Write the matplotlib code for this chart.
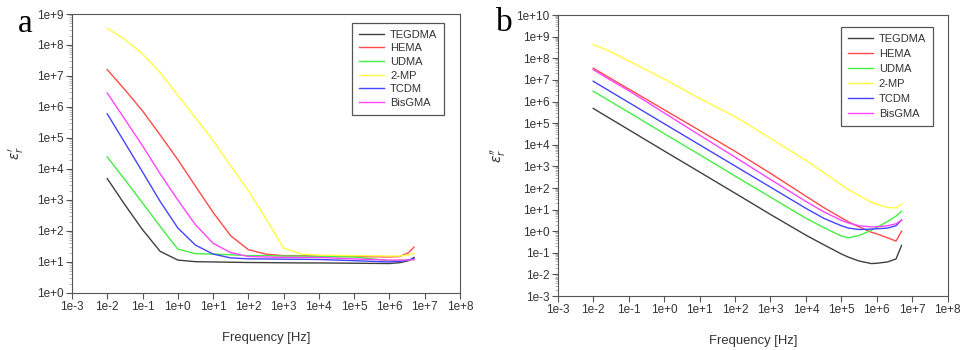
import matplotlib
matplotlib.use("Agg")
import matplotlib.pyplot as plt
from matplotlib.ticker import LogLocator, NullFormatter, FixedLocator

plt.rcParams['font.family'] = ['Liberation Sans', 'DejaVu Sans']

series = ["TEGDMA", "HEMA", "UDMA", "2-MP", "TCDM", "BisGMA"]
colors = ["#404040", "#ff4a4a", "#44ee44", "#ffff44", "#4444ff", "#ff44ff"]

# panel a: real permittivity
freq_a = [0.01, 0.0316, 0.1, 0.316, 1, 3.16, 10, 31.6, 100, 316, 1e3, 3.16e3,
          1e4, 1e5, 1e6, 2e6, 3.5e6, 5e6]
tegdma_a = [4900, 700, 110, 22, 11.5, 10.2, 10, 9.8, 9.6, 9.5, 9.4, 9.3, 9.3, 9.1, 8.9, 9.5, 11, 14]
hema_a = [1.6e7, 3.6e6, 7.5e5, 1.25e5, 2e4, 2800, 400, 70, 25, 17.8, 16, 16, 15.5, 15, 14.5, 15, 20, 30]
udma_a = [24500, 4500, 800, 140, 26, 18.5, 18, 17, 16, 16, 15.5, 15.5, 15, 14.5, 11, 11, 11.5, 12]
mp2_a = [3.5e8, 1.5e8, 5.2e7, 1.3e7, 2.4e6, 4.5e5, 8.3e4, 1.26e4, 2000, 250, 28, 18, 16.6, 16, 15.5, 15.5, 17, 19]
tcdm_a = [6e5, 7e4, 8e3, 900, 125, 35, 18, 13.5, 12.6, 12.5, 12.3, 12.2, 12, 11, 10, 10.5, 11.5, 13]
bisgma_a = [2.8e6, 4e5, 5.6e4, 7e3, 1000, 160, 40, 20, 15, 14.5, 14, 14, 14, 12.5, 11.5, 11.5, 11.5, 12]

# panel b: imaginary permittivity
freq_b = [0.01, 0.0316, 0.1, 1, 10, 100, 1e3, 1e4, 3.16e4, 1e5, 1.6e5, 3.16e5,
          7e5, 1e6, 2e6, 3.5e6, 5e6]
tegdma_b = [4.8e5, 1.55e5, 5e4, 5200, 550, 58, 6, 0.66, 0.24, 0.089, 0.063, 0.042, 0.032, 0.033, 0.038, 0.052, 0.22]
hema_b = [3.5e7, 1.15e7, 3.8e6, 4.2e5, 4.6e4, 5000, 480, 42, 12.6, 4.2, 2.7, 1.6, 0.9, 0.76, 0.5, 0.35, 1.0]
udma_b = [3e6, 9.8e5, 3.2e5, 3.3e4, 3500, 360, 38, 4, 1.5, 0.6, 0.5, 0.63, 1.1, 1.5, 2.8, 5, 8.3]
mp2_b = [4.3e8, 2e8, 7.6e7, 1.1e7, 1.4e6, 2e5, 2e4, 1900, 525, 141, 83, 45, 22, 18, 12.6, 12, 18]
tcdm_b = [8.7e6, 2.8e6, 9.1e5, 9.5e4, 1e4, 1050, 110, 11.5, 4, 1.8, 1.4, 1.2, 1.26, 1.3, 1.4, 1.8, 3.3]
bisgma_b = [3e7, 9.5e6, 3.2e6, 3e5, 2.8e4, 2700, 250, 24, 8, 3.2, 2.4, 1.8, 1.6, 1.6, 1.8, 2.2, 3.3]

x_ticks = [10.0**k for k in range(-3, 9)]
x_labels = ["1e-3", "1e-2", "1e-1", "1e+0", "1e+1", "1e+2", "1e+3", "1e+4",
            "1e+5", "1e+6", "1e+7", "1e+8"]
y_exp_a = list(range(0, 10))
y_exp_b = list(range(-3, 11))


def fmt_exp(k):
    return "1e%s%d" % ("+" if k >= 0 else "-", abs(k))


fig = plt.figure(figsize=(9.65, 3.5), dpi=100)
ax_a = fig.add_axes([0.0746, 0.163, 0.402, 0.797])
ax_b = fig.add_axes([0.578, 0.154, 0.404, 0.803])

panels = [
    (ax_a, freq_a, [tegdma_a, hema_a, udma_a, mp2_a, tcdm_a, bisgma_a], y_exp_a,
     r"$\varepsilon_r'$", (0.959, 0.968), 0.33, -0.118),
    (ax_b, freq_b, [tegdma_b, hema_b, udma_b, mp2_b, tcdm_b, bisgma_b], y_exp_b,
     r"$\varepsilon_r''$", (0.962, 0.957), 0.46, -0.128),
]

for ax, freq, ys, yexp, ylab, lg_anchor, lg_space, ylab_x in panels:
    for name, col, y in zip(series, colors, ys):
        ax.plot(freq, y, color=col, lw=1.0, label=name)
    ax.set_xscale("log")
    ax.set_yscale("log")
    ax.set_xlim(1e-3, 1e8)
    ax.set_ylim(10.0**yexp[0], 10.0**yexp[-1])
    ax.xaxis.set_major_locator(FixedLocator(x_ticks))
    ax.set_xticklabels(x_labels)
    ax.xaxis.set_minor_locator(FixedLocator([]))
    ax.yaxis.set_major_locator(FixedLocator([10.0**k for k in yexp]))
    ax.set_yticklabels([fmt_exp(k) for k in yexp])
    ax.yaxis.set_minor_locator(LogLocator(base=10, subs=range(2, 10), numticks=30))
    ax.yaxis.set_minor_formatter(NullFormatter())
    ax.tick_params(axis="both", which="major", direction="out", length=4,
                   width=0.8, color="#555555", labelsize=8.5, labelcolor="#333333", pad=2)
    ax.tick_params(axis="y", which="minor", direction="out", length=2,
                   width=0.5, color="#999999")
    for sp in ax.spines.values():
        sp.set_color("#555555")
        sp.set_linewidth(0.8)
    ax.set_xlabel("Frequency [Hz]", fontsize=9.4, color="#333333")
    ax.xaxis.set_label_coords(0.5, -0.14)
    ax.set_ylabel(ylab, fontsize=10, color="#333333")
    ax.yaxis.set_label_coords(ylab_x, 0.5)
    lg = ax.legend(loc="upper right", bbox_to_anchor=lg_anchor, fontsize=8,
                   frameon=True, fancybox=False, framealpha=1, edgecolor="#555555",
                   handlelength=2.25, labelspacing=lg_space, borderpad=0.6,
                   handletextpad=0.55, borderaxespad=0)
    lg.get_frame().set_linewidth(0.9)
    for t in lg.get_texts():
        t.set_color("#333333")

fig.text(25 / 965, 1 - 24 / 350, "a", ha="center", va="center", fontsize=24,
         family="Liberation Serif")
fig.text(504 / 965, 1 - 23 / 350, "b", ha="center", va="center", fontsize=24,
         family="Liberation Serif")

fig.savefig("out.png", dpi=100)
